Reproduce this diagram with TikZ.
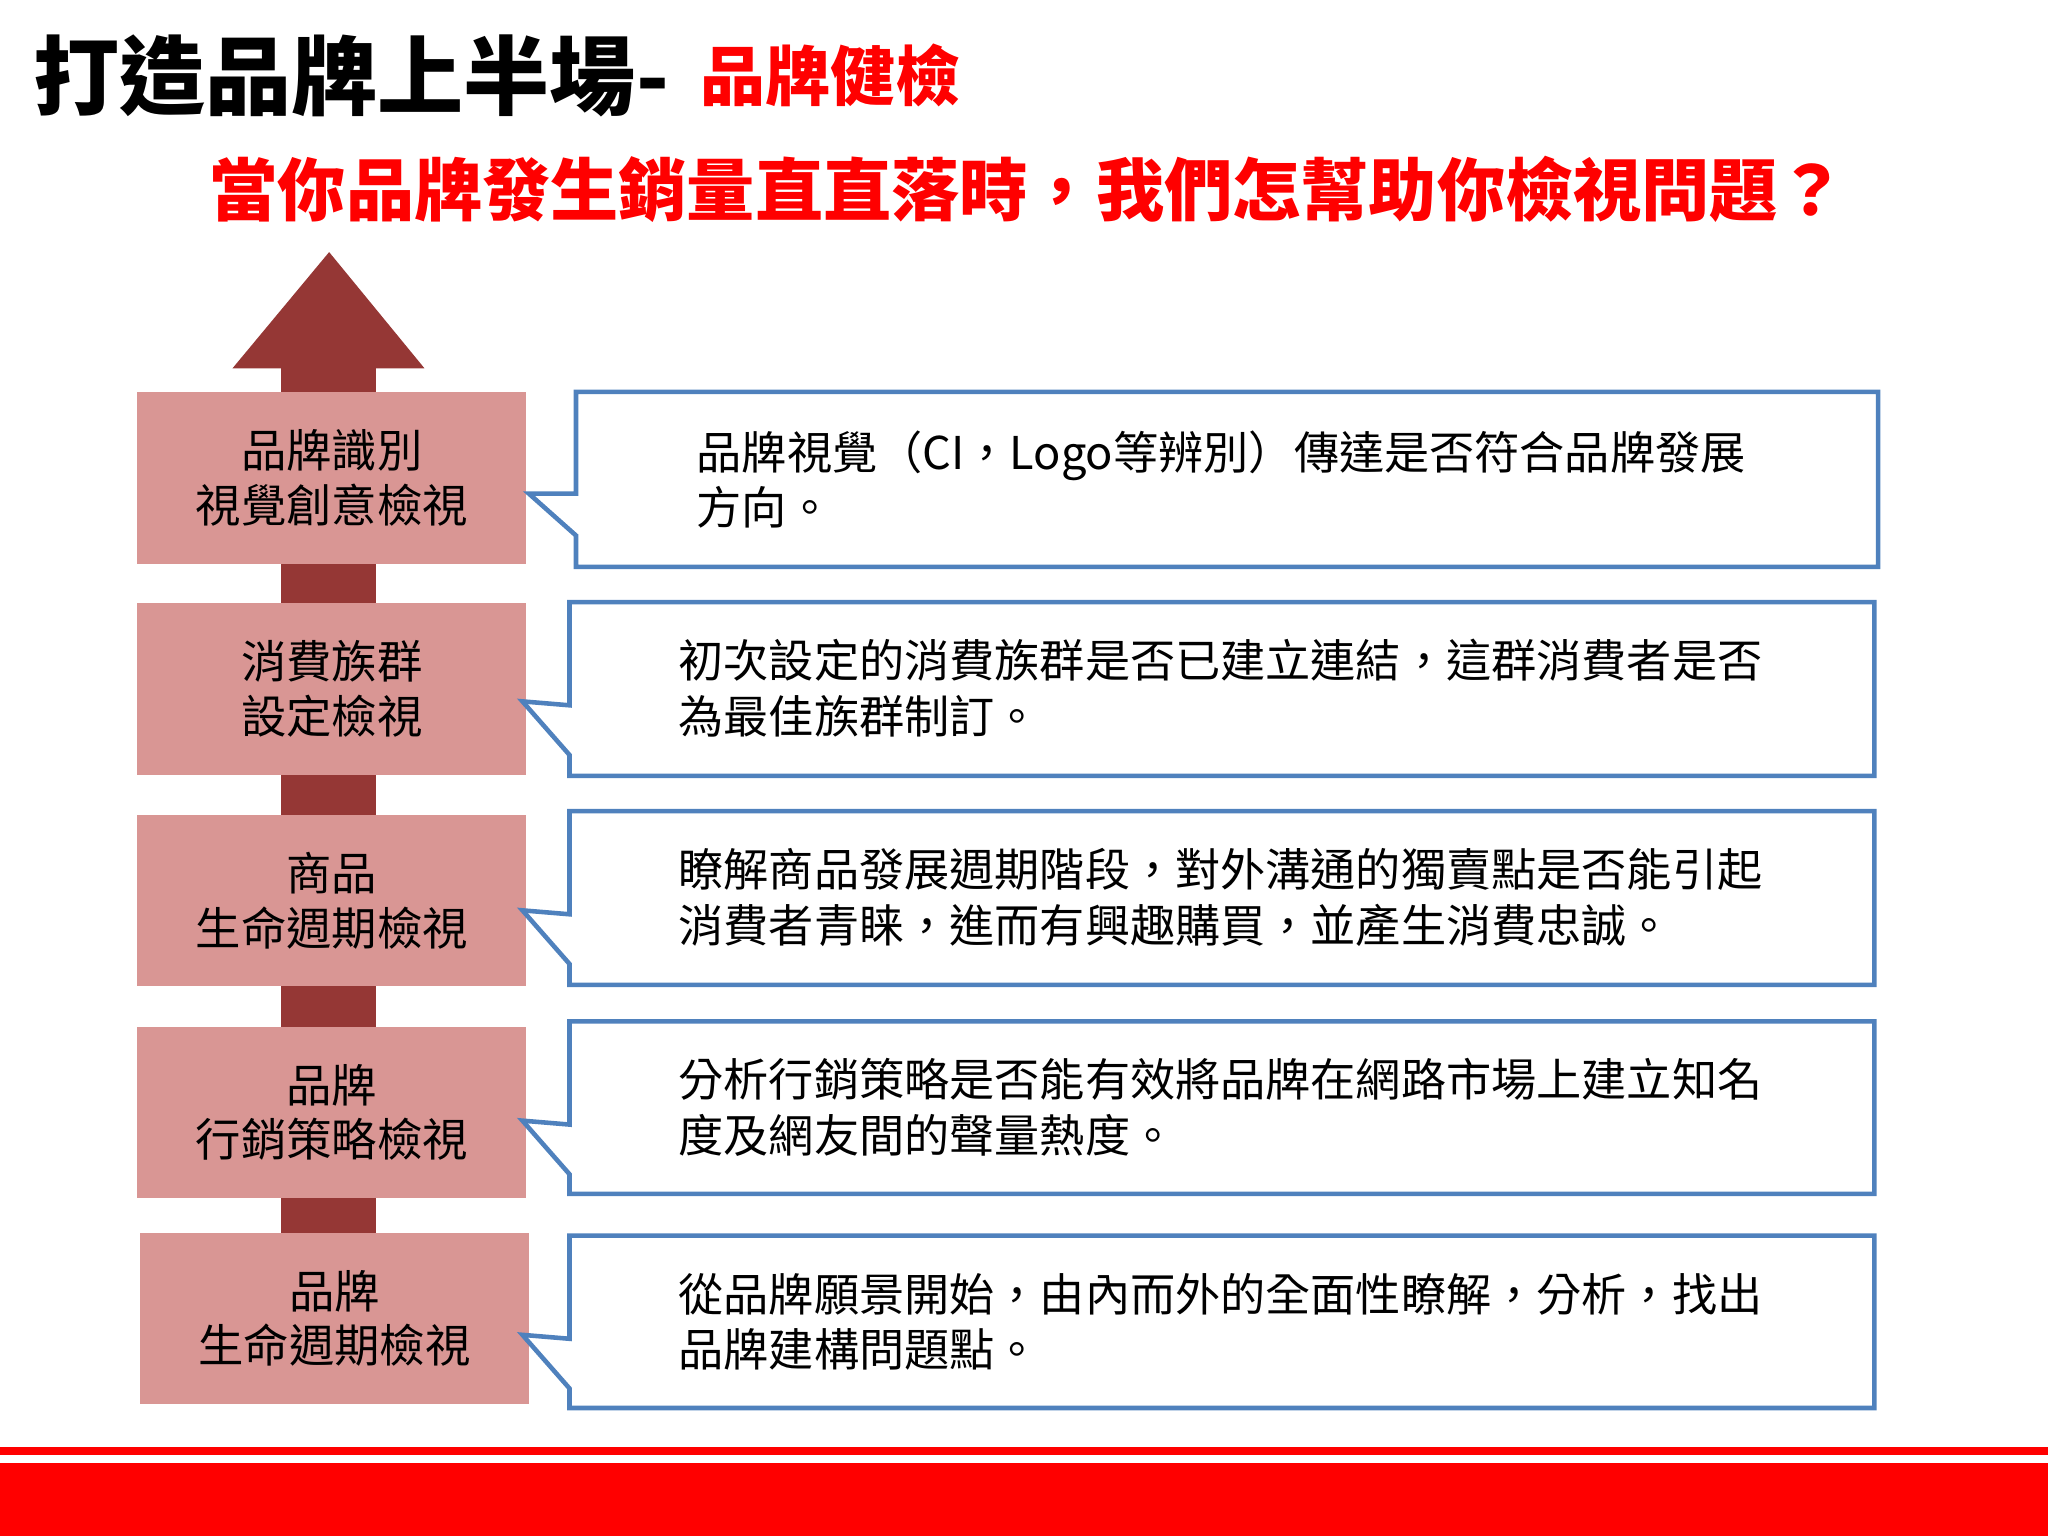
\documentclass[tikz,border=0pt]{standalone}
\usepackage{fontspec}
\setmainfont{Noto Sans CJK TC}
\definecolor{arr}{HTML}{953735}
\definecolor{pk}{HTML}{D99694}
\definecolor{bl}{HTML}{4F81BD}
\begin{document}
\begin{tikzpicture}[x=0.013061cm,y=-0.013061cm,
  lab/.style={font=\fontsize{12.9pt}{15.5pt}\selectfont,align=center},
  txt/.style={font=\fontsize{12.85pt}{15.8pt}\selectfont,align=left,anchor=west,text width=12.5cm},
  call/.style={draw=bl,line width=1.3pt,fill=white}]
\useasboundingbox (0,0) rectangle (1568,1176);
\node[anchor=west,font=\bfseries\fontsize{24.5pt}{27pt}\selectfont,inner sep=0pt] (t1) at (25,58) {打造品牌上半場-};
\node[anchor=west,text=red,font=\bfseries\fontsize{18.5pt}{21pt}\selectfont,inner sep=0pt] (t2) at ([xshift=0.3cm]t1.east) {品牌健檢};
\node[text=red,font=\bfseries\fontsize{19.4pt}{22pt}\selectfont] (sub) at (787,145) {當你品牌發生銷量直直落時，我們怎幫助你檢視問題？};
\fill[arr] (215,280) rectangle (288,945);
\fill[arr] (178,282) -- (252,193) -- (325,282) -- cycle;
\foreach \n/\ya/\yb/\xa/\txt in {a/300/432/105/{品牌識別\\視覺創意檢視},b/462/593/105/{消費族群\\設定檢視},c/624/755/105/{商品\\生命週期檢視},d/786/917/105/{品牌\\行銷策略檢視},e/944/1075/107/{品牌\\生命週期檢視}}{
  \fill[pk] (\xa,\ya) rectangle (\xa+298,\yb);
  \node[lab] (\n) at (\xa+149,{(\ya+\yb)/2}) {\txt};
}
\draw[call] (441,378) -- (405,378) -- (441,410) -- (441,434) -- (1438,434) -- (1438,300) -- (441,300) -- cycle;
\node[txt] (ta) at (524,367) {品牌視覺（CI，Logo等辨別）傳達是否符合品牌發展\\方向。};
\foreach \n/\ya/\yb/\tx in {b/461/594/{初次設定的消費族群是否已建立連結，這群消費者是否\\為最佳族群制訂。},c/621/754/{瞭解商品發展週期階段，對外溝通的獨賣點是否能引起\\消費者青睐，進而有興趣購買，並產生消費忠誠。},d/782/914/{分析行銷策略是否能有效將品牌在網路市場上建立知名\\度及網友間的聲量熱度。},e/946/1078/{從品牌願景開始，由內而外的全面性瞭解，分析，找出\\品牌建構問題點。}}{
  \draw[call] (436,\ya+79) -- (400,\ya+76) -- (436,\ya+117) -- (436,\yb) -- (1435,\yb) -- (1435,\ya) -- (436,\ya) -- cycle;
  \node[txt] (t\n) at (510,\ya+66) {\tx};
}
\fill[red] (0,1108) rectangle (1568,1114);
\fill[red] (0,1120) rectangle (1568,1176);
\end{tikzpicture}
\end{document}
